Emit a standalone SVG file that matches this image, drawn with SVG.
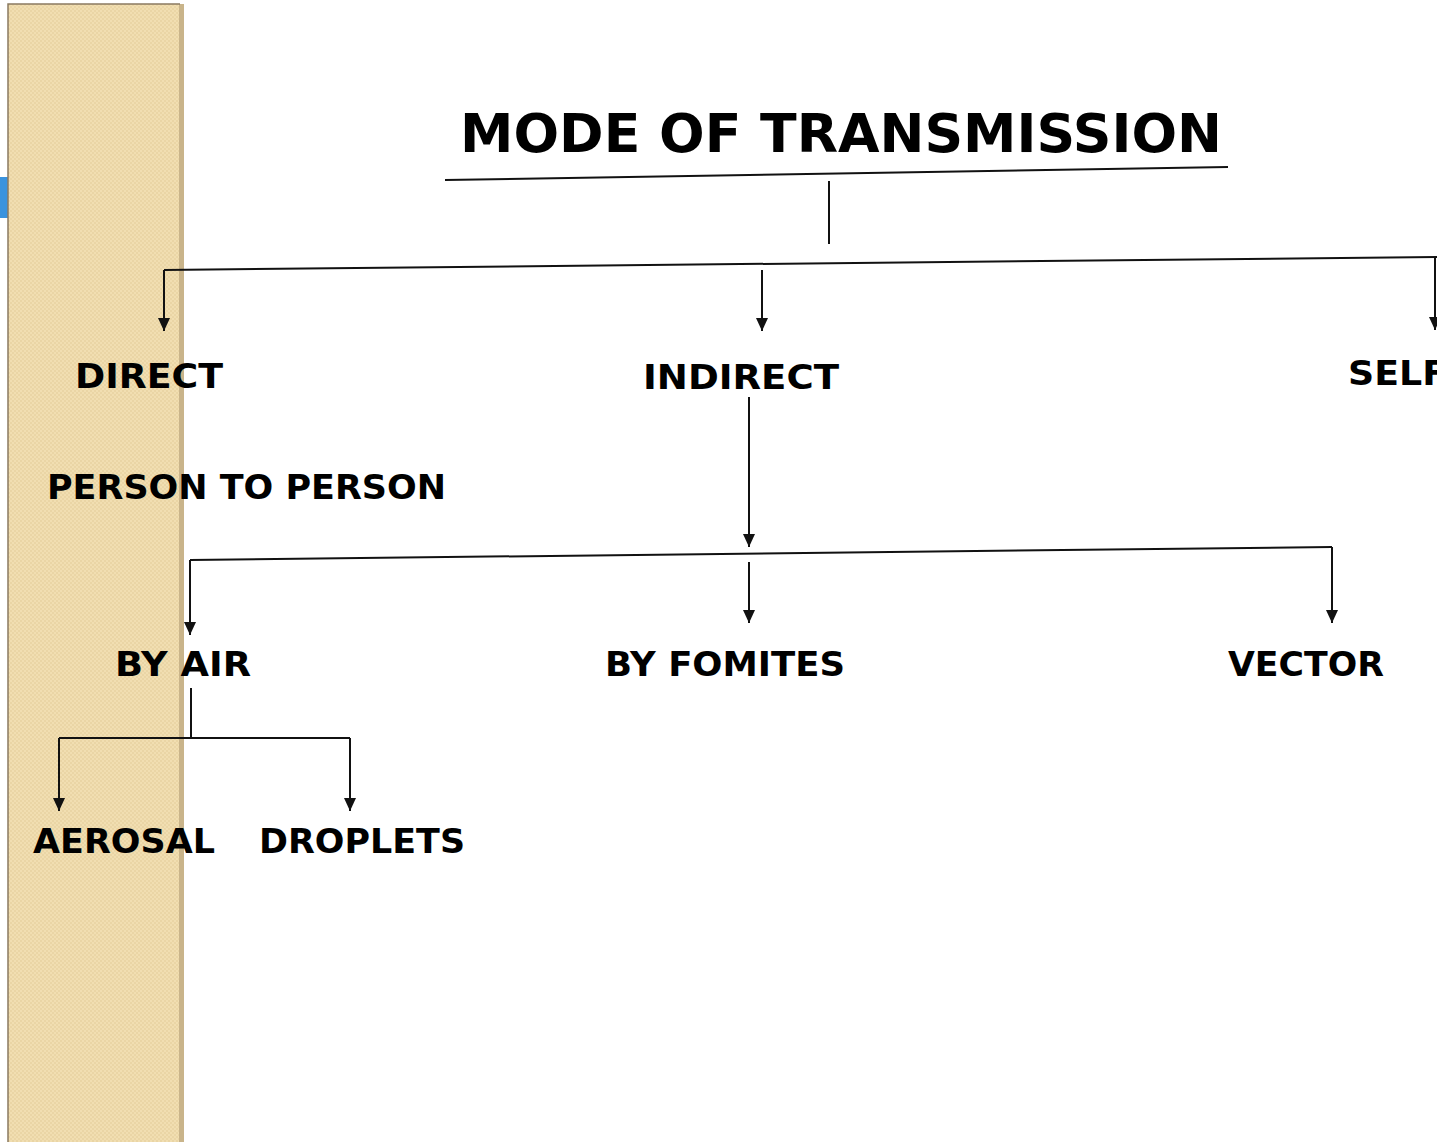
<svg xmlns="http://www.w3.org/2000/svg" width="1437" height="1143" viewBox="0 0 1437 1143">
  <style>
    .lbl { font-family: "DejaVu Sans", "Liberation Sans", sans-serif; font-weight: bold; font-size: 33px; fill: #000; }
    .title { font-family: "DejaVu Sans", "Liberation Sans", sans-serif; font-weight: bold; font-size: 54px; fill: #000; }
    .ln { stroke: #111; stroke-width: 2; fill: none; }
    .arr { stroke: #111; stroke-width: 2; fill: none; marker-end: url(#down); }
  </style>
  <defs>
    <!-- downward arrowhead, tip sits on the line end -->
    <marker id="down" markerUnits="userSpaceOnUse" markerWidth="12" markerHeight="13" refX="6" refY="13" viewBox="0 0 12 13">
      <path d="M0,0 L12,0 L6,13 Z" fill="#111"/>
    </marker>
    <pattern id="weave" width="4" height="4" patternUnits="userSpaceOnUse">
      <rect width="4" height="4" fill="#F1DEB1"/>
      <rect width="2" height="2" fill="#EAD5A5"/>
      <rect x="2" y="2" width="2" height="2" fill="#EAD5A5"/>
    </pattern>
  </defs>

  <rect width="1437" height="1143" fill="#ffffff"/>

  <!-- side panel -->
  <g id="side-panel">
    <rect x="0" y="177" width="8" height="41" fill="#3A93DE"/>
    <rect x="8" y="4" width="176" height="1138" fill="#C9B48A"/>
    <rect x="8" y="4" width="171" height="1138" fill="url(#weave)"/>
    <path d="M8,1142 V4 H180" stroke="#8A7A60" stroke-width="1.5" fill="none"/>
  </g>

  <!-- connectors -->
  <g id="connectors">
    <path class="ln" d="M445,180 L1228,167" stroke-width="2.5"/>
    <path class="ln" d="M829,181 V244"/>
    <path class="ln" d="M164,270 L1437,257"/>
    <path class="arr" d="M164,270 V331"/>
    <path class="arr" d="M762,270 V331"/>
    <path class="arr" d="M1435,258 V330"/>
    <path class="arr" d="M749,397 V547"/>
    <path class="ln" d="M190,560 L1332,547"/>
    <path class="arr" d="M190,560 V635"/>
    <path class="arr" d="M749,562 V623"/>
    <path class="arr" d="M1332,547 V623"/>
    <path class="ln" d="M191,688 V738"/>
    <path class="ln" d="M59,738 H350"/>
    <path class="arr" d="M59,738 V811"/>
    <path class="arr" d="M350,738 V811"/>
  </g>

  <g id="title"><text class="title" x="460" y="152" textLength="762" lengthAdjust="spacingAndGlyphs">MODE OF TRANSMISSION</text></g>
  <g id="direct"><text class="lbl" x="75" y="388" textLength="148" lengthAdjust="spacingAndGlyphs">DIRECT</text></g>
  <g id="indirect"><text class="lbl" x="643" y="389" textLength="196" lengthAdjust="spacingAndGlyphs">INDIRECT</text></g>
  <g id="self"><text class="lbl" x="1348" y="385" textLength="99" lengthAdjust="spacingAndGlyphs">SELF</text></g>
  <g id="person-to-person"><text class="lbl" x="47" y="499" textLength="399" lengthAdjust="spacingAndGlyphs">PERSON TO PERSON</text></g>
  <g id="by-air"><text class="lbl" x="115" y="676" textLength="136" lengthAdjust="spacingAndGlyphs">BY AIR</text></g>
  <g id="by-fomites"><text class="lbl" x="605" y="676" textLength="240" lengthAdjust="spacingAndGlyphs">BY FOMITES</text></g>
  <g id="vector"><text class="lbl" x="1228" y="676" textLength="156" lengthAdjust="spacingAndGlyphs">VECTOR</text></g>
  <g id="aerosal"><text class="lbl" x="33" y="853" textLength="182" lengthAdjust="spacingAndGlyphs">AEROSAL</text></g>
  <g id="droplets"><text class="lbl" x="259" y="853" textLength="206" lengthAdjust="spacingAndGlyphs">DROPLETS</text></g>
</svg>
